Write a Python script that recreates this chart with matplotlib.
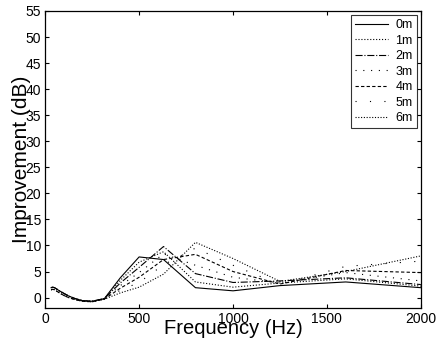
import matplotlib
matplotlib.use("Agg")
import matplotlib.pyplot as plt

freqs = [31.5, 40, 50, 63, 80, 100, 125, 160, 200, 250, 315, 400, 500, 630, 800, 1000, 1250, 1600, 2000]

low_a = [1.9, 2.0, 1.9, 1.6, 1.2, 0.8, 0.3, -0.2, -0.6, -0.7, -0.2]
low_b = [1.5, 1.6, 1.5, 1.2, 0.8, 0.4, 0.0, -0.4, -0.7, -0.8, -0.3]

d0m = low_a + [3.8, 7.8, 7.3, 1.9, 1.3, 2.3, 3.0, 1.9]
d1m = low_a + [3.3, 6.8, 8.8, 3.0, 2.0, 2.8, 3.6, 2.2]
d2m = low_a + [2.8, 5.8, 9.8, 4.6, 2.9, 3.2, 3.8, 2.5]
d3m = low_b + [2.3, 4.8, 8.4, 6.2, 3.9, 2.8, 4.8, 3.2]
d4m = low_b + [1.8, 3.9, 7.3, 8.3, 5.0, 2.6, 5.2, 4.8]
d5m = low_b + [1.4, 2.9, 6.3, 9.5, 6.2, 2.5, 6.0, 7.0]
d6m = low_b + [0.9, 2.0, 4.5, 10.6, 7.5, 3.1, 5.0, 8.0]

labels = ["0m", "1m", "2m", "3m", "4m", "5m", "6m"]
series = [d0m, d1m, d2m, d3m, d4m, d5m, d6m]
styles = ["-", ":", "-.", (0, (1, 6)), (0, (3, 2)), (0, (1, 12)), (0, (1, 1.5))]

x_ticks = [0, 500, 1000, 1500, 2000]
y_ticks = list(range(0, 56, 5))

plt.rcParams['font.family'] = ['Liberation Sans', 'DejaVu Sans']

fig = plt.figure(figsize=(4.43, 3.43), dpi=100)
ax = fig.add_axes([0.102, 0.102, 0.848, 0.866])

for y, lab, ls in zip(series, labels, styles):
    ax.plot(freqs, y, color="black", linestyle=ls, linewidth=0.8, label=lab)

ax.set_xlim(0, 2000)
ax.set_ylim(-2, 55)
ax.set_xticks(x_ticks)
ax.set_yticks(y_ticks)
ax.tick_params(direction="in", top=True, right=True, labelsize=10, length=3, width=0.8, pad=3)
for s in ax.spines.values():
    s.set_linewidth(0.9)

ax.set_xlabel("Frequency (Hz)", fontsize=14.5, labelpad=-5)
ax.set_ylabel("Improvement (dB)", fontsize=15, labelpad=-4)

leg = ax.legend(loc="upper right", fontsize=9, frameon=True, fancybox=False,
                edgecolor="black", handlelength=2.6, handletextpad=0.6,
                labelspacing=0.28, borderpad=0.35, borderaxespad=0.3)
leg.get_frame().set_linewidth(0.8)

fig.savefig("out.png", dpi=100)
